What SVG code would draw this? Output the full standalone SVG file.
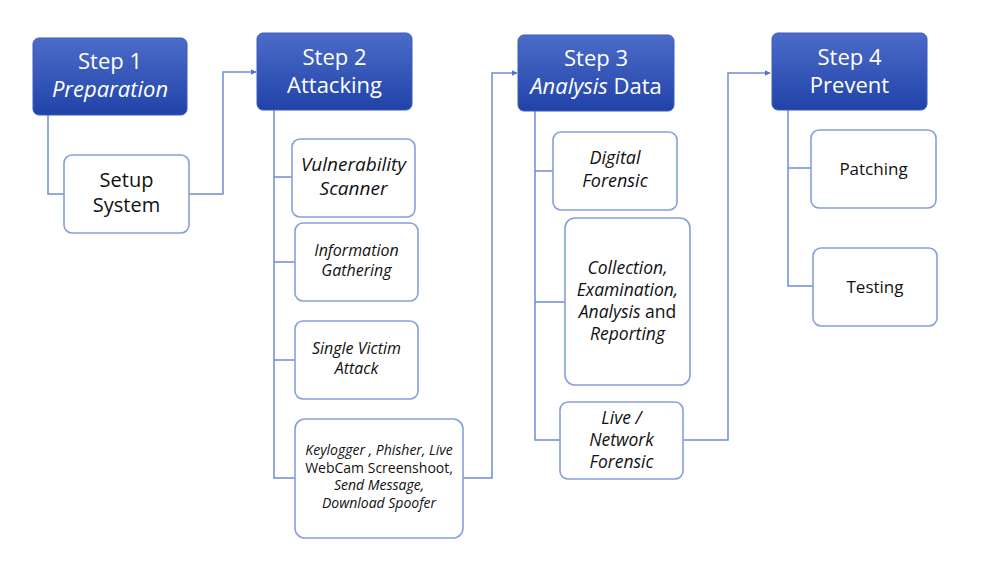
<svg xmlns="http://www.w3.org/2000/svg" width="993" height="563" viewBox="0 0 993 563">
<defs>
<linearGradient id="hg" x1="0" y1="0" x2="0" y2="1">
<stop offset="0" stop-color="#4B6CC8"/>
<stop offset="1" stop-color="#2143A9"/>
</linearGradient>
<marker id="arr" viewBox="0 0 10 10" refX="9" refY="5" markerWidth="6" markerHeight="6" orient="auto" markerUnits="userSpaceOnUse">
<path d="M0,0 L10,5 L0,10 z" fill="#4F73CF"/>
</marker>
<style>
.hdr{fill:url(#hg);stroke:#3A5BBF;stroke-width:1}
.box{fill:#fff;stroke:#86A0DC;stroke-width:1.6}
.ht{font-family:"Open Sans",sans-serif;font-size:22px;fill:#fff;text-anchor:middle}
.bt{font-family:"Open Sans",sans-serif;font-size:18px;fill:#111;text-anchor:middle}
.it{font-style:italic}
.up{font-style:normal}
.sm{font-size:14px}
.con{fill:none;stroke:#6E8DD6;stroke-width:1.5}
</style>
</defs>
<rect width="993" height="563" fill="#fff"/>
<g id="connectors">
<path class="con" d="M48,115 V194 H64"/>
<path class="con" d="M189,194 H223 V72 H256" marker-end="url(#arr)"/>
<path class="con" d="M274,110 V478 H295"/>
<path class="con" d="M274,177 H292"/>
<path class="con" d="M274,262 H295"/>
<path class="con" d="M274,360 H295"/>
<path class="con" d="M463,478 H492 V73 H517" marker-end="url(#arr)"/>
<path class="con" d="M535,111 V440 H560"/>
<path class="con" d="M535,171 H553"/>
<path class="con" d="M535,302 H565"/>
<path class="con" d="M683,440 H728 V73 H770" marker-end="url(#arr)"/>
<path class="con" d="M788,110 V286 H813"/>
<path class="con" d="M788,168 H811"/>
</g>
<g id="step1">
<rect class="hdr" x="33" y="38" width="154" height="77" rx="6"/>
<text class="ht" x="110" y="69">Step 1</text>
<text class="ht it" x="110" y="97">Preparation</text>
</g>
<g id="setup">
<rect class="box" x="64" y="155" width="125" height="78" rx="8"/>
<text class="bt" x="126.5" y="187" style="font-size:20px">Setup</text>
<text class="bt" x="126.5" y="212" style="font-size:20px">System</text>
</g>
<g id="step2">
<rect class="hdr" x="257" y="33" width="155" height="77" rx="6"/>
<text class="ht" x="334.5" y="65">Step 2</text>
<text class="ht" x="334.5" y="93">Attacking</text>
</g>
<g id="vuln">
<rect class="box" x="292" y="139" width="123" height="78" rx="8"/>
<text class="bt it" x="353.5" y="171" style="font-size:19px">Vulnerability</text>
<text class="bt it" x="353.5" y="195" style="font-size:19px">Scanner</text>
</g>
<g id="info">
<rect class="box" x="295" y="223" width="123" height="78" rx="8"/>
<text class="bt it" x="356.5" y="256" style="font-size:16px">Information</text>
<text class="bt it" x="356.5" y="276" style="font-size:16px">Gathering</text>
</g>
<g id="single">
<rect class="box" x="295" y="321" width="123" height="78" rx="8"/>
<text class="bt it" x="356.5" y="354" style="font-size:16px">Single Victim</text>
<text class="bt it" x="356.5" y="374" style="font-size:16px">Attack</text>
</g>
<g id="keylogger">
<rect class="box" x="295" y="419" width="168" height="119" rx="10"/>
<text class="bt it sm" x="379" y="455">Keylogger , Phisher, Live</text>
<text class="bt sm" x="379" y="472.5">WebCam Screenshoot,</text>
<text class="bt it sm" x="379" y="490">Send Message,</text>
<text class="bt it sm" x="379" y="507.5">Download Spoofer</text>
</g>
<g id="step3">
<rect class="hdr" x="518" y="35" width="156" height="76" rx="6"/>
<text class="ht" x="596" y="66">Step 3</text>
<text class="ht" x="596" y="94"><tspan class="it">Analysis</tspan> Data</text>
</g>
<g id="digital">
<rect class="box" x="553" y="132" width="124" height="78" rx="8"/>
<text class="bt it" x="615" y="164">Digital</text>
<text class="bt it" x="615" y="187">Forensic</text>
</g>
<g id="collection">
<rect class="box" x="565" y="218" width="125" height="167" rx="10"/>
<text class="bt it" x="627.5" y="274" style="font-size:17.5px">Collection,</text>
<text class="bt it" x="627.5" y="296" style="font-size:17.5px">Examination,</text>
<text class="bt" x="627.5" y="318" style="font-size:17.5px"><tspan class="it">Analysis</tspan> and</text>
<text class="bt it" x="627.5" y="340" style="font-size:17.5px">Reporting</text>
</g>
<g id="live">
<rect class="box" x="560" y="402" width="123" height="77" rx="8"/>
<text class="bt it" x="621.5" y="424" style="font-size:17.5px">Live /</text>
<text class="bt it" x="621.5" y="446" style="font-size:17.5px">Network</text>
<text class="bt it" x="621.5" y="468" style="font-size:17.5px">Forensic</text>
</g>
<g id="step4">
<rect class="hdr" x="772" y="33" width="155" height="77" rx="6"/>
<text class="ht" x="849.5" y="65">Step 4</text>
<text class="ht" x="849.5" y="93">Prevent</text>
</g>
<g id="patching">
<rect class="box" x="811" y="130" width="125" height="78" rx="8"/>
<text class="bt" x="873.5" y="175" style="font-size:17px">Patching</text>
</g>
<g id="testing">
<rect class="box" x="813" y="248" width="124" height="78" rx="8"/>
<text class="bt" x="875" y="293" style="font-size:17px">Testing</text>
</g>
</svg>
